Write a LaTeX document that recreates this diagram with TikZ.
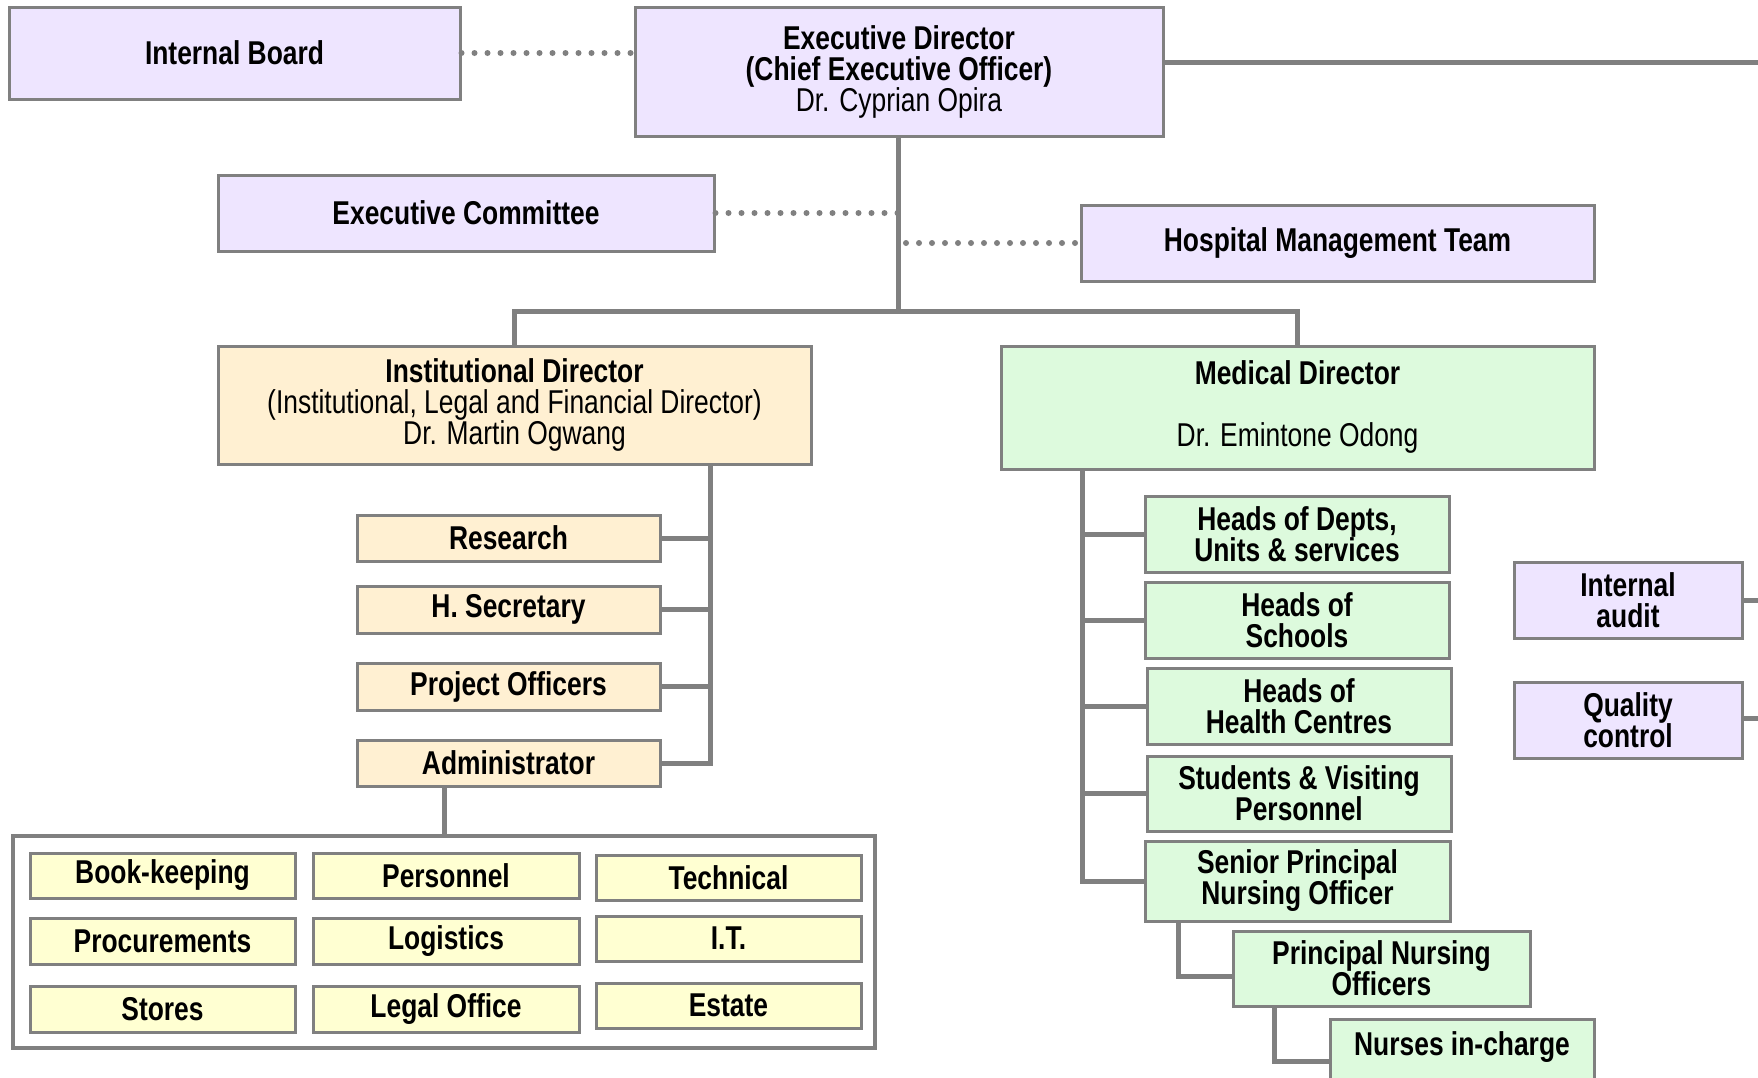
\documentclass[tikz,border=0pt]{standalone}
\usepackage{fontspec}
\setmainfont{Liberation Sans}[FakeStretch=0.8]
\definecolor{bgray}{HTML}{808080}
\definecolor{lavfill}{HTML}{EEE5FF}
\definecolor{orgfill}{HTML}{FFF0D2}
\definecolor{grnfill}{HTML}{DDFADD}
\definecolor{yelfill}{HTML}{FFFFD2}
\begin{document}
\begin{tikzpicture}[x=1pt,y=-1pt,
  font=\fontsize{33}{31}\selectfont,
  base/.style={draw=bgray, line width=3pt, inner sep=0pt, align=center, text=black},
  lav/.style={base, fill=lavfill},
  org/.style={base, fill=orgfill},
  grn/.style={base, fill=grnfill},
  yel/.style={base, fill=yelfill},
  conn/.style={draw=bgray, line width=5pt},
  dots/.style={draw=bgray, line width=6pt, line cap=round, dash pattern=on 0pt off 13pt}]
\useasboundingbox[fill=white] (0,0) rectangle (1758,1077);

% top level
\node[lav, minimum width=451pt, minimum height=92pt] (ib) at (234.5,53) {\bfseries Internal Board};
\node[lav, minimum width=528pt, minimum height=129pt, text depth=6pt] (ed) at (899,71.5) {\bfseries Executive Director\\\bfseries (Chief Executive Officer)\\Dr. Cyprian Opira};
\node[lav, minimum width=496pt, minimum height=76pt] (ec) at (466,213) {\bfseries Executive Committee};
\node[lav, minimum width=513pt, minimum height=76pt] (hmt) at (1337.5,243) {\bfseries Hospital Management Team};

% directors
\node[org, minimum width=593pt, minimum height=118pt] (id) at (514.5,405) {\bfseries Institutional Director\\(Institutional, Legal and Financial Director)\\Dr. Martin Ogwang};
\node[grn, minimum width=593pt, minimum height=123pt, text depth=8pt] (md) at (1297.5,407.5) {\bfseries Medical Director\\[31pt]Dr. Emintone Odong};

% institutional branch
\node[org, minimum width=303pt, minimum height=46pt] (res) at (508.5,538) {\bfseries Research};
\node[org, minimum width=303pt, minimum height=47pt] (hsec) at (508.5,609.5) {\bfseries H. Secretary};
\node[org, minimum width=303pt, minimum height=47pt] (po) at (508.5,686.5) {\bfseries Project Officers};
\node[org, minimum width=303pt, minimum height=46pt] (adm) at (508.5,763) {\bfseries Administrator};

\node[draw=bgray, line width=4pt, fill=white, minimum width=862pt, minimum height=212pt, inner sep=0pt] (units) at (444,942) {};
\node[yel, minimum width=265pt, minimum height=45pt] (bk) at (162.5,875.5) {\bfseries Book-keeping};
\node[yel, minimum width=266pt, minimum height=45pt] (pers) at (446,875.5) {\bfseries Personnel};
\node[yel, minimum width=265pt, minimum height=45pt] (tech) at (728.5,877.5) {\bfseries Technical};
\node[yel, minimum width=265pt, minimum height=46pt] (proc) at (162.5,941) {\bfseries Procurements};
\node[yel, minimum width=266pt, minimum height=46pt] (log) at (446,941) {\bfseries Logistics};
\node[yel, minimum width=265pt, minimum height=45pt] (it) at (728.5,938.5) {\bfseries I.T.};
\node[yel, minimum width=265pt, minimum height=46pt] (sto) at (162.5,1009) {\bfseries Stores};
\node[yel, minimum width=266pt, minimum height=46pt] (legal) at (446,1009) {\bfseries Legal Office};
\node[yel, minimum width=265pt, minimum height=45pt] (est) at (728.5,1005.5) {\bfseries Estate};

% medical branch
\node[grn, minimum width=304pt, minimum height=76pt] (hod) at (1297,534) {\bfseries Heads of Depts,\\\bfseries Units \& services};
\node[grn, minimum width=304pt, minimum height=76pt] (hos) at (1297,620) {\bfseries Heads of\\\bfseries Schools};
\node[grn, minimum width=304pt, minimum height=76pt] (hhc) at (1299,706) {\bfseries Heads of\\\bfseries Health Centres};
\node[grn, minimum width=304pt, minimum height=75pt] (svp) at (1299,793.5) {\bfseries Students \& Visiting\\\bfseries Personnel};
\node[grn, minimum width=305pt, minimum height=80pt] (spno) at (1297.5,881) {\bfseries Senior Principal\\\bfseries Nursing Officer};
\node[grn, minimum width=297pt, minimum height=75pt] (pno) at (1381.5,968.5) {\bfseries Principal Nursing\\\bfseries Officers};
\node[grn, minimum width=264pt, minimum height=84pt, anchor=north] (nic) at (1462,1018) {};
\node[font=\fontsize{33}{31}\selectfont\bfseries] (nictext) at (1462,1047) {Nurses in-charge};

% side boxes
\node[lav, minimum width=228pt, minimum height=76pt] (ia) at (1628,600) {\bfseries Internal\\\bfseries audit};
\node[lav, minimum width=228pt, minimum height=76pt] (qc) at (1628,720) {\bfseries Quality\\\bfseries control};
\coordinate (iaend) at (1760,600);
\coordinate (qcend) at (1760,718);
\coordinate (edend) at (1760,62);

% coordinates
\coordinate (bar) at (898,311);
\coordinate (idx) at (710,464);
\coordinate (mdx) at (1082,469);
\coordinate (spx) at (1178,921);
\coordinate (pnx) at (1274,1006);

% connectors
\draw[dots] (ib.east) -- (ib.east -| ed.west);
\draw[conn] (ed.east |- edend) -- (edend);
\draw[conn] (ed.south -| bar) -- (bar);
\draw[dots] (ec.east) -- (ec.east -| bar);
\draw[dots] ([xshift=8pt]hmt.west -| bar) -- (hmt.west);
\draw[conn] (id.north) -- (id.north |- bar) -| (md.north);

\draw[conn] (idx) |- (adm.east);
\draw[conn] (res.east) -- (res.east -| idx);
\draw[conn] (hsec.east) -- (hsec.east -| idx);
\draw[conn] (po.east) -- (po.east -| idx);
\draw[conn] (units.north |- adm.south) -- (units.north);

\draw[conn] (mdx) |- (spno.west);
\draw[conn] (hod.west -| mdx) -- (hod.west);
\draw[conn] (hos.west -| mdx) -- (hos.west);
\draw[conn] (hhc.west -| mdx) -- (hhc.west);
\draw[conn] (svp.west -| mdx) -- (svp.west);
\draw[conn] (spx) |- ([yshift=-8pt]pno.west);
\draw[conn] (pnx) |- ([yshift=-14pt]nictext.west -| nic.west);

\draw[conn] (ia.east) -- (iaend);
\draw[conn] (qc.east |- qcend) -- (qcend);
\end{tikzpicture}
\end{document}
